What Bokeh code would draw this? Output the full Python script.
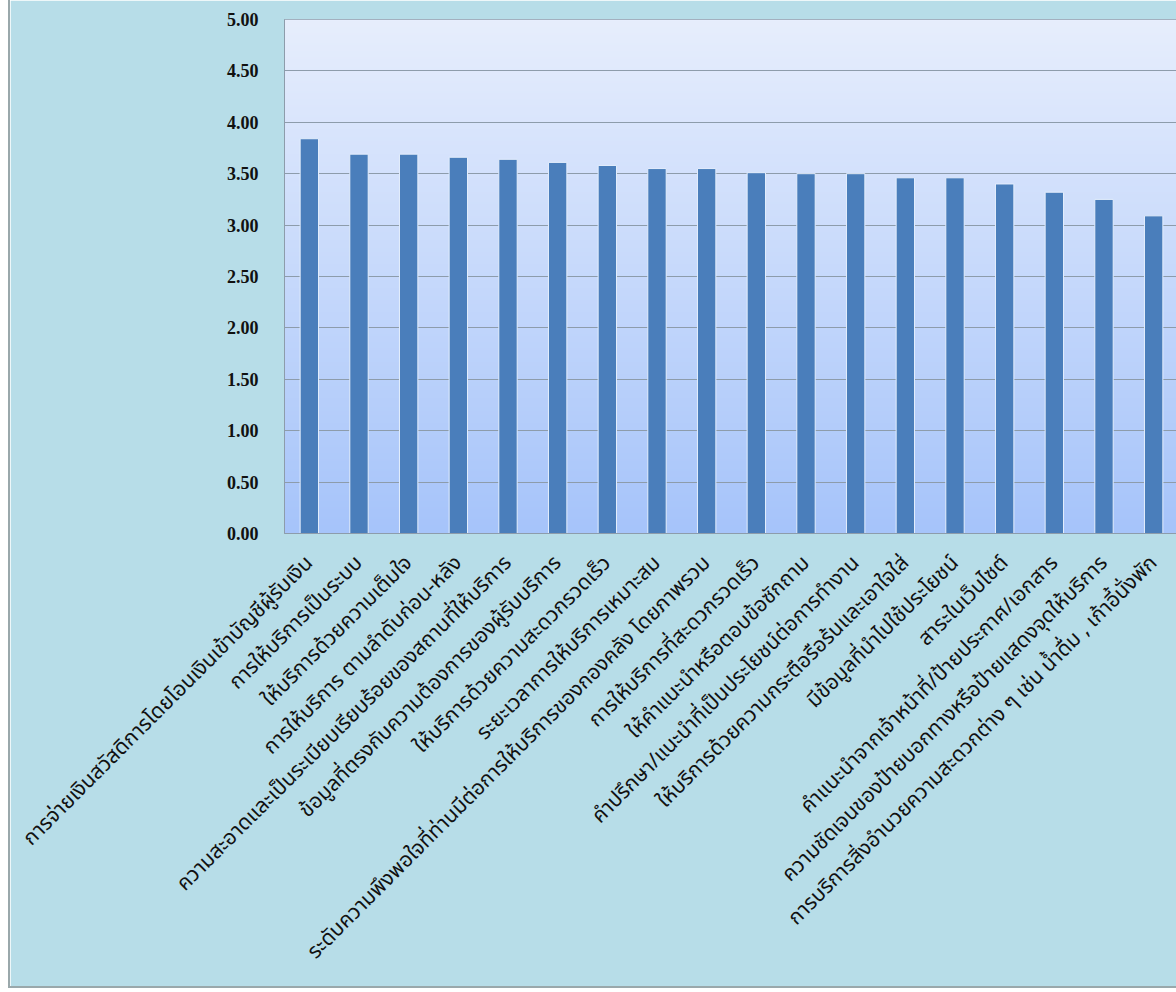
import math
import numpy as np
from bokeh.plotting import figure
from bokeh.models import FactorRange, Range1d, SingleIntervalTicker, NumeralTickFormatter
from bokeh.embed import file_html
from bokeh.resources import INLINE

categories = [
    "การจ่ายเงินสวัสดิการโดยโอนเงินเข้าบัญชีผู้รับเงิน",
    "การให้บริการเป็นระบบ",
    "ให้บริการด้วยความเต็มใจ",
    "การให้บริการ ตามลำดับก่อน-หลัง",
    "ความสะอาดและเป็นระเบียบเรียบร้อยของสถานที่ให้บริการ",
    "ข้อมูลที่ตรงกับความต้องการของผู้รับบริการ",
    "ให้บริการด้วยความสะดวกรวดเร็ว",
    "ระยะเวลาการให้บริการเหมาะสม",
    "ระดับความพึงพอใจที่ท่านมีต่อการให้บริการของกองคลัง โดยภาพรวม",
    "การให้บริการที่สะดวกรวดเร็ว",
    "ให้คำแนะนำหรือตอบข้อซักถาม",
    "คำปรึกษา/แนะนำที่เป็นประโยชน์ต่อการทำงาน",
    "ให้บริการด้วยความกระตือรือร้นและเอาใจใส่",
    "มีข้อมูลที่นำไปใช้ประโยชน์",
    "สาระในเว็บไซต์",
    "คำแนะนำจากเจ้าหน้าที่/ป้ายประกาศ/เอกสาร",
    "ความชัดเจนของป้ายบอกทางหรือป้ายแสดงจุดให้บริการ",
    "การบริการสิ่งอำนวยความสะดวกต่าง ๆ เช่น น้ำดื่ม , เก้าอี้นั่งพัก",
]
scores = [3.84, 3.69, 3.69, 3.66, 3.64, 3.61, 3.58, 3.55, 3.55,
          3.51, 3.50, 3.50, 3.46, 3.46, 3.40, 3.32, 3.25, 3.09]

Y_MIN, Y_MAX, Y_STEP = 0.0, 5.0, 0.5

BG = "#b7dde8"
GRID = "#8d9cab"

p = figure(
    x_range=FactorRange(factors=categories, range_padding=0),
    y_range=Range1d(Y_MIN, Y_MAX),
    width=1168, height=988,
    output_backend="svg", toolbar_location=None,
    min_border_left=274, min_border_right=0, min_border_top=19, min_border_bottom=455,
    background_fill_color="#c8d9fc", border_fill_color=BG,
)
p.margin = (0, 0, 0, 8)
p.styles = {"border-left": "2px solid #9aa8ab", "border-bottom": "2px solid #9aa8ab"}

# vertical gradient for plot background
n = 256
top = np.array([231, 238, 253], dtype=float)
bot = np.array([166, 196, 250], dtype=float)
t = np.linspace(0, 1, n)[:, None]  # row 0 = bottom
cols = bot * (1 - t) + top * t
img = np.zeros((n, 1), dtype=np.uint32)
view = img.view(dtype=np.uint8).reshape((n, 1, 4))
view[:, 0, 0] = cols[:, 0].astype(np.uint8)
view[:, 0, 1] = cols[:, 1].astype(np.uint8)
view[:, 0, 2] = cols[:, 2].astype(np.uint8)
view[:, 0, 3] = 255
p.image_rgba(image=[img], x=0, y=Y_MIN, dw=len(categories), dh=Y_MAX - Y_MIN, level="image")

p.vbar(x=categories, top=scores, width=0.37, bottom=0,
       fill_color="#4a7ebb", line_color="#e4eefc", line_width=1)

p.outline_line_color = GRID
p.outline_line_width = 1

p.xgrid.grid_line_color = None
p.ygrid.grid_line_color = GRID
p.ygrid.grid_line_width = 1

p.yaxis.ticker = SingleIntervalTicker(interval=Y_STEP)
p.yaxis.formatter = NumeralTickFormatter(format="0.00")
p.yaxis.axis_line_color = GRID
p.yaxis.major_tick_line_color = None
p.yaxis.minor_tick_line_color = None
p.yaxis.major_label_standoff = 20
p.yaxis.major_label_text_font = "Liberation Serif"
p.yaxis.major_label_text_font_style = "bold"
p.yaxis.major_label_text_font_size = "18px"
p.yaxis.major_label_text_color = "#111111"

p.xaxis.axis_line_color = GRID
p.xaxis.major_tick_line_color = None
p.xaxis.minor_tick_line_color = None
p.xaxis.major_label_orientation = math.pi / 4
p.xaxis.major_label_standoff = 20
p.xaxis.major_label_text_font = "Tahoma, 'Noto Sans Thai', 'Noto Sans'"
p.xaxis.major_label_text_font_size = "21px"
p.xaxis.major_label_text_color = "#111111"

open("out.html", "w").write(file_html(p, INLINE))
